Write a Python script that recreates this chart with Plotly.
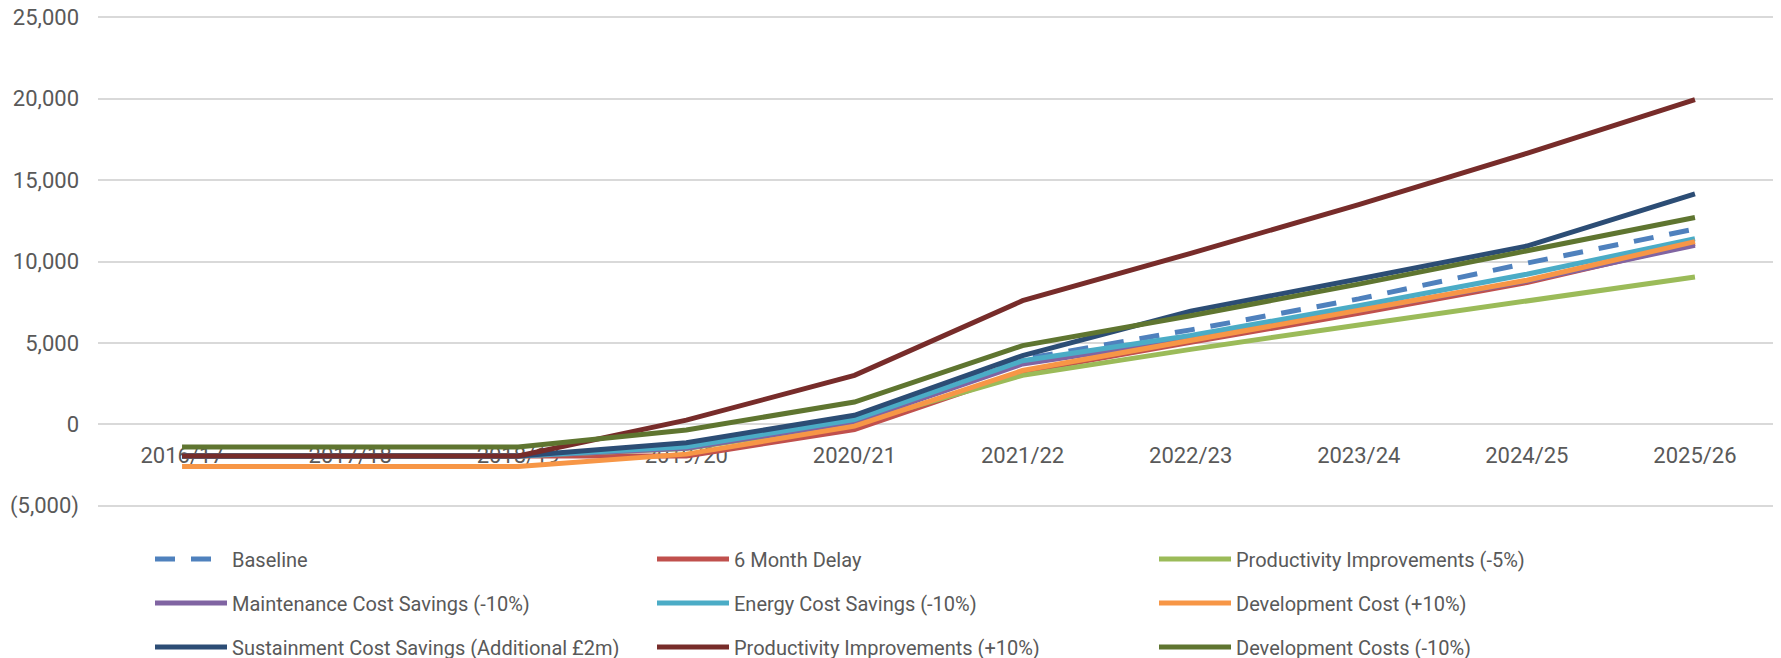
import plotly.graph_objects as go

categories = ["2016/17", "2017/18", "2018/19", "2019/20", "2020/21",
              "2021/22", "2022/23", "2023/24", "2024/25", "2025/26"]

baseline = [-1950, -1950, -1950, -1400, 350, 4000, 5800, 7700, 9900, 12000]
six_month_delay = [-1950, -1950, -1950, -1950, -330, 3200, 5040, 6810, 8710, 11100]
prod_minus5 = [-1950, -1950, -1950, -1500, 40, 3000, 4600, 6100, 7590, 9050]
maintenance = [-1950, -1950, -1950, -1480, 150, 3700, 5250, 7000, 8800, 11000]
energy = [-1950, -1950, -1950, -1380, 285, 3900, 5450, 7280, 9220, 11400]
dev_plus10 = [-2600, -2600, -2600, -1840, -120, 3300, 5150, 6980, 8850, 11220]
sustainment = [-1950, -1950, -1950, -1140, 550, 4220, 6950, 8920, 10950, 14150]
prod_plus10 = [-1950, -1950, -1950, 250, 3000, 7590, 10500, 13500, 16650, 19950]
dev_minus10 = [-1400, -1400, -1400, -350, 1360, 4830, 6670, 8610, 10650, 12700]

series_names = ["Baseline", "6 Month Delay", "Productivity Improvements (-5%)",
                "Maintenance Cost Savings (-10%)", "Energy Cost Savings (-10%)",
                "Development Cost (+10%)", "Sustainment Cost Savings (Additional £2m)",
                "Productivity Improvements (+10%)", "Development Costs (-10%)"]
series_values = [baseline, six_month_delay, prod_minus5, maintenance, energy,
                 dev_plus10, sustainment, prod_plus10, dev_minus10]
series_colors = ["#4F81BD", "#C0504D", "#9BBB59", "#8064A2", "#4BACC6",
                 "#F79646", "#2C4D75", "#772C2A", "#5F7530"]

y_tickvals = [-5000, 0, 5000, 10000, 15000, 20000, 25000]
y_ticktext = ["(5,000)", "0", "5,000", "10,000", "15,000", "20,000", "25,000"]

# the page body adds an 8px margin, so the figure is sized to fit the window
W, H = 1773, 650
FONT = "Roboto"
TXT = "#595959"
Y_LO, Y_HI = -5150, 25150

fig = go.Figure()
legend_ids = ["legend", "legend", "legend", "legend2", "legend2", "legend2",
              "legend3", "legend3", "legend3"]
for i, (name, vals, col) in enumerate(zip(series_names, series_values, series_colors)):
    fig.add_trace(go.Scatter(
        x=categories, y=vals, name=name, mode="lines",
        line=dict(color=col, width=5, dash="20px,16px" if i == 0 else "solid"),
        legend=legend_ids[i],
    ))

row_y = [551, 595, 639]
legend_common = dict(orientation="h", xref="container", yref="container",
                     x=142 / W, xanchor="left", yanchor="middle",
                     entrywidth=415, entrywidthmode="pixels",
                     font=dict(family=FONT, size=20, color=TXT),
                     bgcolor="rgba(0,0,0,0)", itemwidth=72, tracegroupgap=0)

fig.update_layout(
    width=W, height=H,
    margin=dict(l=90, r=2, t=6.5, b=150, autoexpand=False),
    paper_bgcolor="white", plot_bgcolor="white",
    font=dict(family=FONT, size=22, color=TXT),
    showlegend=True,
    legend=dict(**legend_common, y=1 - row_y[0] / H),
    legend2=dict(**legend_common, y=1 - row_y[1] / H),
    legend3=dict(**legend_common, y=1 - row_y[2] / H),
    xaxis=dict(type="category", range=[-0.5, 9.5], anchor="free",
               position=(0 - Y_LO) / (Y_HI - Y_LO), showgrid=False, showline=False,
               ticks="", zeroline=False, layer="below traces",
               tickfont=dict(family=FONT, size=22, color=TXT),
               ticklabelstandoff=16),
    yaxis=dict(range=[Y_LO, Y_HI], tickvals=y_tickvals, ticktext=y_ticktext,
               showgrid=True, gridcolor="#D9D9D9", gridwidth=1.5,
               zeroline=False, showline=False, ticks="",
               ticklabeloverflow="allow",
               tickfont=dict(family=FONT, size=22, color=TXT),
               ticklabelstandoff=18),
)

fig.write_html("out.html")
